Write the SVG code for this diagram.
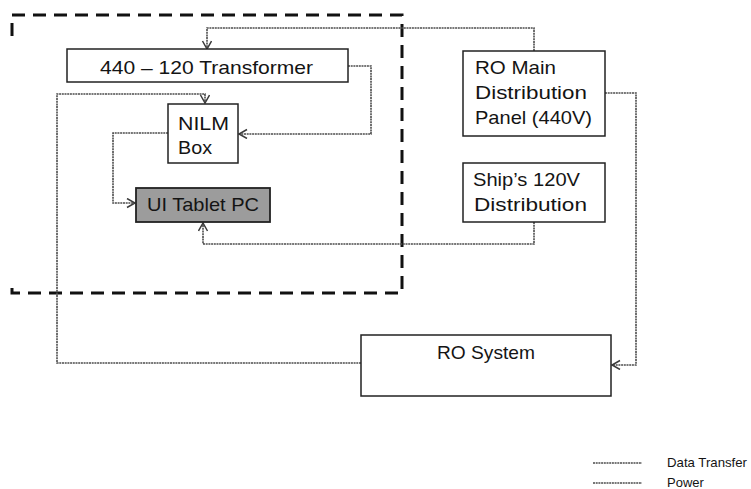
<svg xmlns="http://www.w3.org/2000/svg" width="751" height="489" viewBox="0 0 751 489">
  <style>
    .box { fill: #ffffff; stroke: #222222; stroke-width: 1.5; }
    .shaded { fill: #9c9c9c; stroke: #222222; stroke-width: 1.8; }
    .label { font-family: "Liberation Sans", Arial, sans-serif; font-size: 19px; fill: #141414; }
    .legend { font-family: "Liberation Sans", Arial, sans-serif; font-size: 13px; fill: #141414; }
    .link { fill: none; stroke: #4c4c4c; stroke-width: 1.6; stroke-dasharray: 2 0.7; }
    .boundary { fill: none; stroke: #111111; stroke-width: 3; stroke-dasharray: 13 8; }
  </style>
  <defs>
    <marker id="arrow" markerUnits="userSpaceOnUse" markerWidth="12" markerHeight="12" refX="9" refY="5" orient="auto">
      <path d="M1,0.5 L9,5 L1,9.5" fill="none" stroke="#3a3a3a" stroke-width="1.5"/>
    </marker>
  </defs>

  <rect width="751" height="489" fill="#ffffff"/>

  <!-- on-board unit boundary -->
  <path class="boundary" d="M12,36 L12,15 L402,15 L402,293 L12,293 L12,280"/>

  <g id="connectors">
    <path class="link" marker-end="url(#arrow)" d="M534,51 L534,28 L207,28 L207,49"/>
    <path class="link" marker-end="url(#arrow)" d="M348,66 L371,66 L371,134 L239,134"/>
    <path class="link" marker-end="url(#arrow)" d="M168,133 L113,133 L113,203 L135,203"/>
    <path class="link" marker-end="url(#arrow)" d="M534,222 L534,244 L203,244 L203,223"/>
    <path class="link" marker-end="url(#arrow)" d="M361,363 L57,363 L57,94 L205,94 L205,103"/>
    <path class="link" marker-end="url(#arrow)" d="M605,93 L636,93 L636,365 L612,365"/>
  </g>

  <g id="transformer">
    <rect class="box" x="67" y="49" width="281" height="33"/>
    <text class="label" x="100" y="74" textLength="213" lengthAdjust="spacingAndGlyphs">440 – 120 Transformer</text>
  </g>

  <g id="nilm-box">
    <rect class="box" x="168" y="104" width="70" height="59"/>
    <text class="label" x="178" y="130" textLength="51" lengthAdjust="spacingAndGlyphs">NILM</text>
    <text class="label" x="178" y="154" textLength="34" lengthAdjust="spacingAndGlyphs">Box</text>
  </g>

  <g id="ui-tablet">
    <rect class="shaded" x="136" y="188" width="134" height="34"/>
    <text class="label" x="147" y="211" textLength="112" lengthAdjust="spacingAndGlyphs">UI Tablet PC</text>
  </g>

  <g id="ro-main-panel">
    <rect class="box" x="463" y="51" width="142" height="85"/>
    <text class="label" x="475" y="74" textLength="81" lengthAdjust="spacingAndGlyphs">RO Main</text>
    <text class="label" x="475" y="99" textLength="112" lengthAdjust="spacingAndGlyphs">Distribution</text>
    <text class="label" x="475" y="124" textLength="117" lengthAdjust="spacingAndGlyphs">Panel (440V)</text>
  </g>

  <g id="ships-120v">
    <rect class="box" x="463" y="163" width="142" height="59"/>
    <text class="label" x="473" y="186" textLength="107" lengthAdjust="spacingAndGlyphs">Ship’s 120V</text>
    <text class="label" x="474" y="211" textLength="113" lengthAdjust="spacingAndGlyphs">Distribution</text>
  </g>

  <g id="ro-system">
    <rect class="box" x="361" y="335" width="250" height="61"/>
    <text class="label" x="437" y="359" textLength="98" lengthAdjust="spacingAndGlyphs">RO System</text>
  </g>

  <g id="legend">
    <line class="link" x1="593" y1="463" x2="642" y2="463"/>
    <text class="legend" x="667" y="467" textLength="80" lengthAdjust="spacingAndGlyphs">Data Transfer</text>
    <line class="link" x1="593" y1="483" x2="642" y2="483"/>
    <text class="legend" x="667" y="487">Power</text>
  </g>
</svg>
